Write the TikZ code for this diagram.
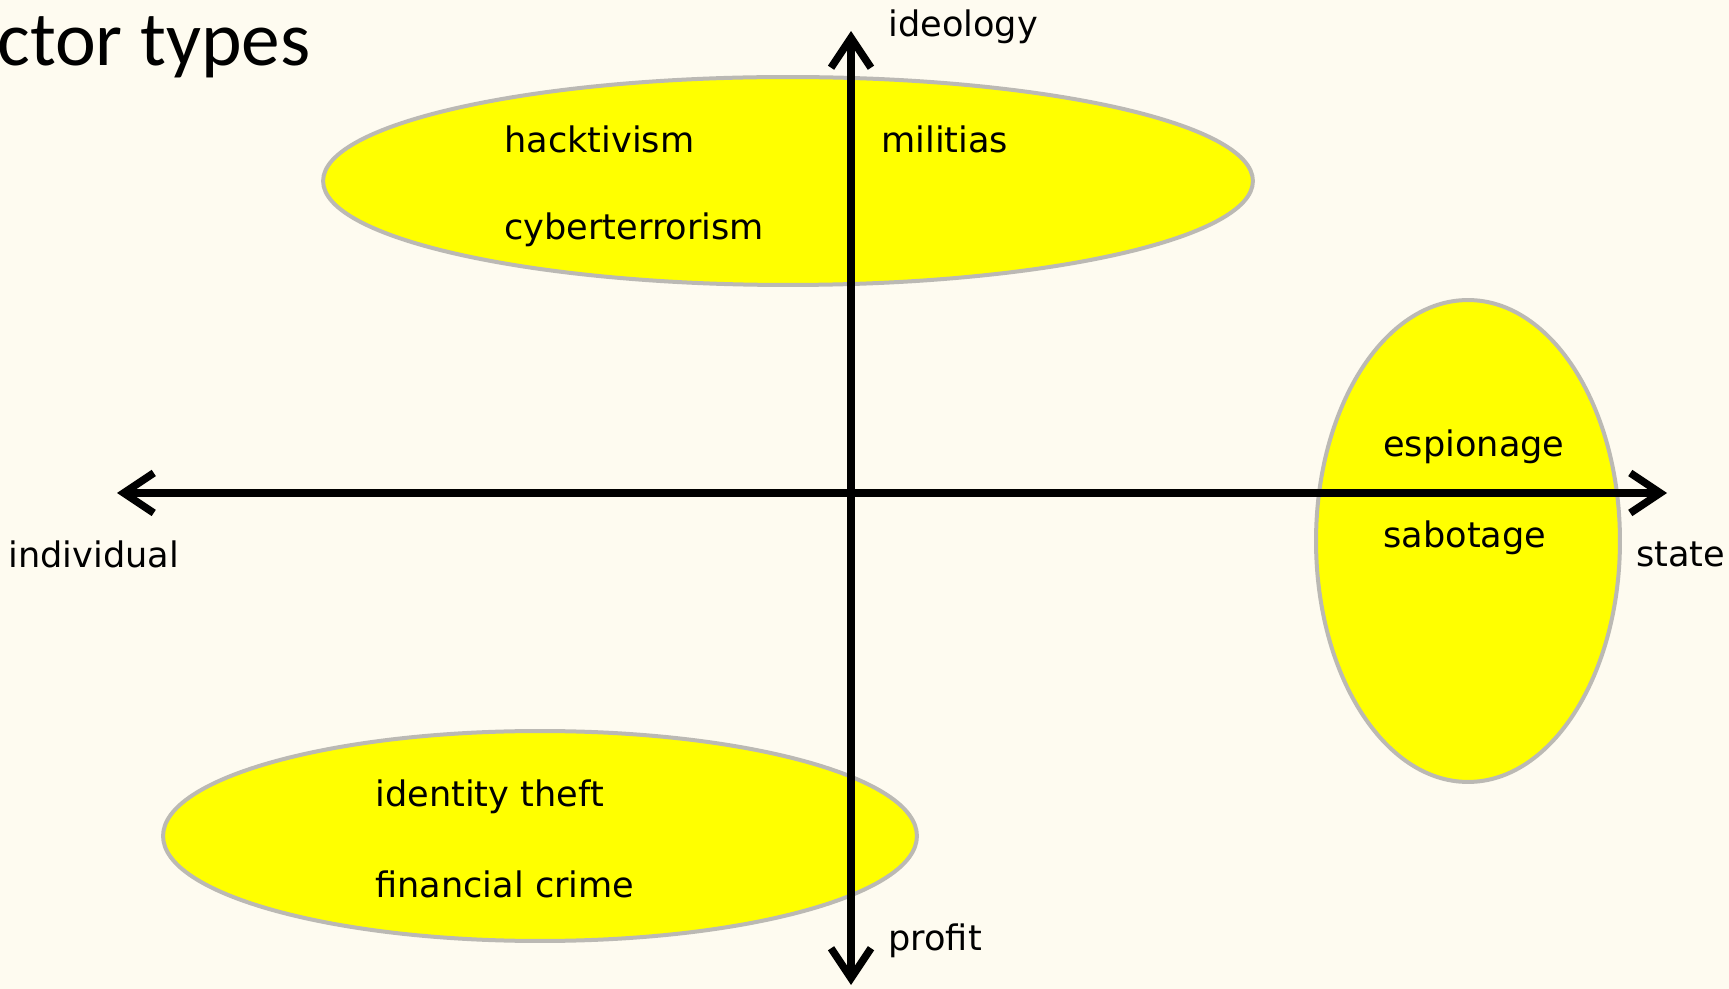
\documentclass[tikz,border=0pt]{standalone}
\usepackage{fontspec}
\usepackage{tikz}
\usetikzlibrary{shapes.geometric, arrows.meta, positioning}
\newfontfamily\labelfont{DejaVu Sans}
\newfontfamily\titlefont{Carlito}
\definecolor{bgcream}{RGB}{254,251,240}
\definecolor{blobgray}{RGB}{187,185,180}
\definecolor{blobyellow}{RGB}{255,255,0}

\begin{document}
\begin{tikzpicture}[
            x=0.02cm, y=-0.02cm,
            blob/.style={ellipse, draw=blobgray, fill=blobyellow, line width=0.08cm, inner sep=0pt},
            axis/.style={{Straight Barb[length=0.6cm, width=0.8cm]}-{Straight Barb[length=0.6cm, width=0.8cm]}, line width=0.15cm, line cap=round, line join=round},
            lbl/.style={anchor=west, font=\labelfont\fontsize{20}{24}\selectfont, inner sep=0pt}
        ]
        % Background
        \fill[bgcream] (0,0) rectangle (1729,989);
        \useasboundingbox (0,0) rectangle (1729,989);

        % Title
        \node[anchor=base west, inner sep=0pt, font=\titlefont\fontsize{44}{50}\selectfont] (title) at (-3,66) {ctor types};

        % Actor groups
        \node[blob, minimum width=18.6cm, minimum height=4.16cm] (ideo) at (788,181) {};
        \node[blob, minimum width=6.08cm, minimum height=9.64cm] (statebl) at (1468,541) {};
        \node[blob, minimum width=15.08cm, minimum height=4.2cm] (prof) at (540,836) {};

        % Axes
        \coordinate (top) at (851,31);
        \coordinate (bottom) at (851,985);
        \coordinate (left) at (117,493);
        \coordinate (right) at (1667,493);
        \draw[axis] (bottom) -- (top);
        \draw[axis] (left) -- (right);

        % Axis labels
        \node[lbl] (ideology) at (888,27) {ideology};
        \node[lbl] (profit) at (888,941) {profit};
        \node[lbl] (individual) at (8,554) {individual};
        \node[lbl] (state) at (1636,554) {state};

        % Group labels
        \node[lbl] (hack) at (504,139) {hacktivism};
        \node[lbl] (mil) at (881,139) {militias};
        \node[lbl] (cyber) at (504,230) {cyberterrorism};
        \node[lbl] (esp) at (1383,447) {espionage};
        \node[lbl] (sab) at (1383,538) {sabotage};
        \node[lbl] (ident) at (375,797) {identity theft};
        \node[lbl] (fin) at (375,884) {financial crime};
    \end{tikzpicture}
\end{document}
